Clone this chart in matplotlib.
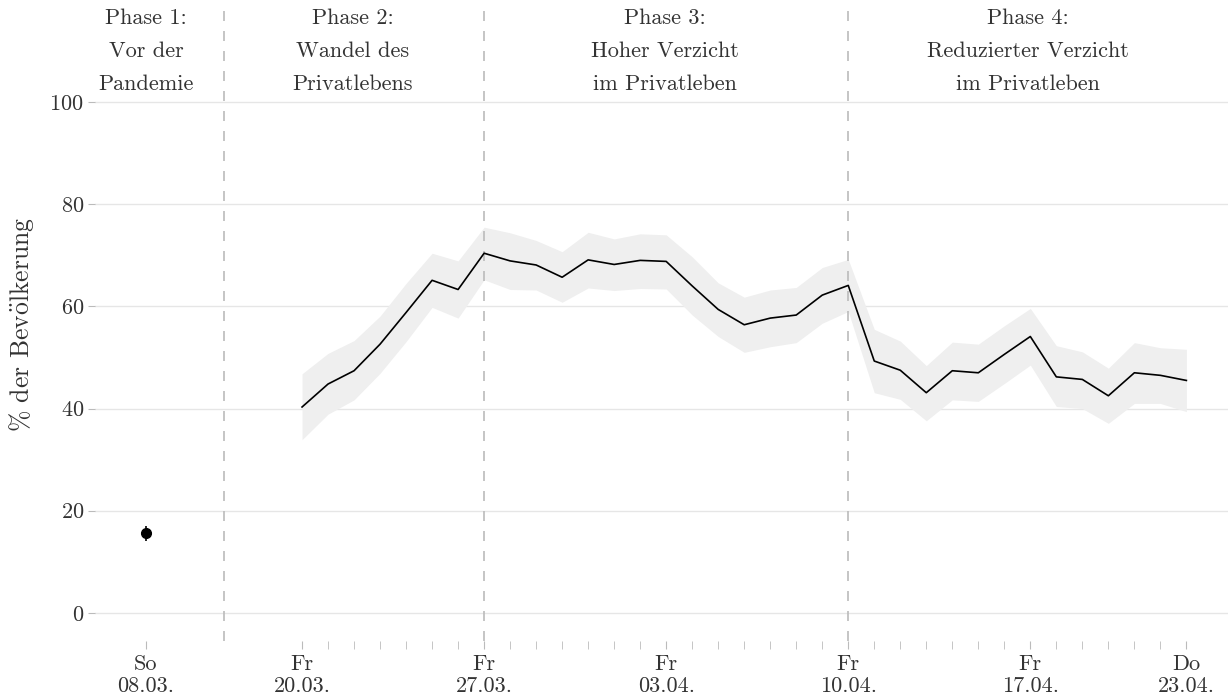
import numpy as np
import pandas as pd
import matplotlib.pyplot as plt

plt.rcParams['font.family'] = ['cmr10', 'DejaVu Serif']
plt.rcParams['mathtext.fontset'] = 'cm'
plt.rcParams['axes.formatter.use_mathtext'] = True

# daily survey values, 20.03. - 23.04.
dates = pd.date_range('2020-03-20', '2020-04-23')
anteil = [40.3, 44.8, 47.4, 52.6, 58.8, 65.1, 63.3, 70.4, 68.9, 68.1, 65.7, 69.1,
          68.2, 69.0, 68.8, 64.0, 59.4, 56.4, 57.7, 58.3, 62.2, 64.1, 49.3, 47.5,
          43.1, 47.4, 47.0, 50.6, 54.1, 46.2, 45.7, 42.5, 47.0, 46.5, 45.5]
ci_oben = [46.8, 50.8, 53.3, 58.1, 64.5, 70.4, 68.9, 75.5, 74.4, 72.9, 70.7, 74.5,
           73.2, 74.2, 74.0, 69.7, 64.6, 61.8, 63.2, 63.7, 67.6, 69.2, 55.5, 53.2,
           48.4, 53.0, 52.6, 56.2, 59.6, 52.3, 51.1, 47.9, 52.9, 51.9, 51.6]
ci_unten = [33.9, 38.9, 41.7, 46.9, 53.1, 59.8, 57.7, 65.2, 63.3, 63.2, 60.8, 63.6,
            63.1, 63.5, 63.4, 58.3, 54.1, 51.0, 52.1, 52.9, 56.7, 59.0, 43.1, 41.8,
            37.6, 41.7, 41.4, 44.9, 48.5, 40.4, 40.0, 37.1, 41.0, 41.0, 39.4]

# Vor der Pandemie (08.03.)
vorher_wert = 15.6
vorher_fehler = 1.5

phasen = ['Phase 1:\nVor der\nPandemie', 'Phase 2:\nWandel des\nPrivatlebens',
          'Phase 3:\nHoher Verzicht\nim Privatleben', 'Phase 4:\nReduzierter Verzicht\nim Privatleben']
wochentag = {6: 'So', 4: 'Fr', 3: 'Do'}

x = np.arange(len(dates))
x_vorher = -6          # axis is broken between 08.03. and 20.03.
grenzen = [-3, 7, 21]  # phase boundaries
phase_x = [-6, 1.95, 13.95, 27.9]

fig = plt.figure(figsize=(12.28, 7), dpi=100)
ax = fig.add_axes([95 / 1228, 1 - 641 / 700, 1 - 95 / 1228, 633 / 700])

ax.fill_between(x, ci_unten, ci_oben, color='#efefef', lw=0, zorder=1)
ax.plot(x, anteil, color='black', lw=1.2, zorder=3)
ax.errorbar([x_vorher], [vorher_wert], yerr=[vorher_fehler], fmt='o', color='black',
            ms=7, elinewidth=1.2, capsize=0, zorder=3)

for g in grenzen:
    ax.axvline(g, color='#bbbbbb', ls=(0, (6, 6)), lw=1.2, zorder=2)

for xp, txt in zip(phase_x, phasen):
    ax.text(xp, 110.0, txt, ha='center', va='center', fontsize=16,
            linespacing=1.86, color='#333333')

ax.set_xlim(-7.96, 35.6)
ax.set_ylim(-5.5, 118.4)
ax.set_yticks([0, 20, 40, 60, 80, 100])
ax.yaxis.grid(True, color='#e6e6e6', lw=1)
ax.set_axisbelow(True)

major = [0, 7, 14, 21, 28, 34]
tick_pos = [x_vorher] + major
tick_lab = [wochentag[6] + '\n08.03.'] + [wochentag[dates[i].dayofweek] + '\n' + dates[i].strftime('%d.%m.') for i in major]
ax.set_xticks(tick_pos)
ax.set_xticklabels(tick_lab, fontsize=16, linespacing=1.12, color='#333333')
ax.set_xticks([i for i in x if i not in major], minor=True)

for s in ax.spines.values():
    s.set_visible(False)
ax.tick_params(axis='x', which='both', length=6, color='#bbbbbb', pad=4)
ax.tick_params(axis='y', length=5, color='#bbbbbb', labelsize=16, labelcolor='#333333', pad=3)

ax.set_ylabel(r'% der Bev$\mathrm{\ddot{o}}$lkerung', fontsize=18.5, color='#333333', labelpad=10)

fig.savefig('out.png', dpi=100)
